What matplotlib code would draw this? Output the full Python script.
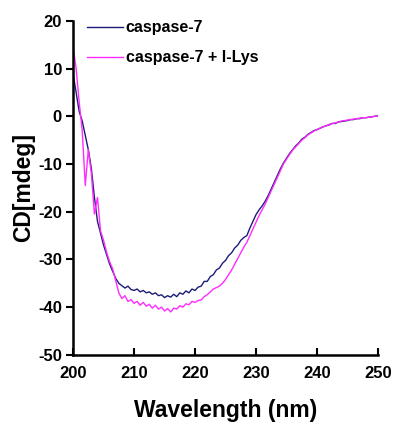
import numpy as np
import matplotlib.pyplot as plt

plt.rcParams['font.family'] = ['Liberation Sans', 'DejaVu Sans']
plt.rcParams['axes.unicode_minus'] = False

# wavelength grid (nm), 0.5 nm steps
wavelength = np.arange(200, 250.5, 0.5)

# CD signal [mdeg]
casp7 = [9, 5, 1, -1, -4, -7, -11, -17, -22, -24.5,
         -27, -29, -31, -32.5, -34, -35, -35.5, -36, -35.6, -36.3,
         -36.5, -36.2, -36.8, -36.5, -37, -36.8, -37.3, -37, -37.6, -37.4,
         -38, -37.6, -37.9, -37.3, -37.8, -37, -37.3, -36.6, -37, -36.2,
         -36.5, -35.8, -35.6, -34.6, -34.6, -33.6, -33.2, -32.2, -31.8, -30.8,
         -30.2, -29.2, -28.6, -27.6, -27, -26, -25.4, -25, -23.4, -22,
         -20.6, -19.6, -18.8, -17.8, -16.6, -15.2, -13.8, -12.4, -11, -9.8,
         -8.8, -7.8, -7, -6.2, -5.6, -4.8, -4.4, -3.8, -3.4, -3.0,
         -2.8, -2.5, -2.2, -2.0, -1.8, -1.5, -1.5, -1.2, -1.1, -1.0,
         -0.9, -0.7, -0.7, -0.5, -0.5, -0.3, -0.3, -0.2, -0.1, 0, 0.1]

casp7_lys = [14.5, 10, 3, -3, -14.5, -7, -12, -20.5, -17, -24,
             -26, -28.5, -30.5, -32, -34.5, -37, -38.2, -37.6, -38.8, -38.4,
             -39.2, -38.8, -39.6, -39, -39.8, -39.4, -40.2, -39.6, -40.4, -40,
             -40.8, -40.3, -41, -40.2, -40.4, -39.7, -40, -39.3, -39.5, -38.8,
             -39, -38.6, -38.5, -37.8, -37.4, -36.8, -36.2, -35.9, -35.6, -35,
             -34.2, -33.2, -32.2, -31, -29.8, -28.6, -27.4, -26.4, -25, -23.6,
             -22.2, -20.8, -19.6, -18.4, -17, -15.6, -14.2, -12.8, -11.4, -10.0,
             -9.0, -8.0, -7.1, -6.4, -5.7, -5.0, -4.5, -3.9, -3.5, -3.1,
             -2.8, -2.5, -2.2, -2.0, -1.7, -1.5, -1.4, -1.2, -1.0, -0.9,
             -0.8, -0.7, -0.6, -0.5, -0.4, -0.3, -0.3, -0.2, -0.1, 0, 0.1]

fig = plt.figure(figsize=(3.95, 4.25), dpi=100)
ax = fig.add_axes([0.185, 0.165, 0.772, 0.786])

ax.plot(wavelength, casp7, color='#1c1c78', lw=1.0, label='caspase-7')
ax.plot(wavelength, casp7_lys, color='#ff2bff', lw=1.0, label='caspase-7 + l-Lys')

ax.set_xlim(200, 250)
ax.set_ylim(-50, 20)
ax.set_xticks(np.arange(200, 251, 10))
ax.set_yticks(np.arange(-50, 21, 10))

for s in ['top', 'right']:
    ax.spines[s].set_visible(False)
for s in ['left', 'bottom']:
    ax.spines[s].set_linewidth(1.8)

ax.tick_params(axis='y', direction='out', length=5, width=1.5, labelsize=12, pad=3)
ax.tick_params(axis='x', direction='in', length=5, width=1.5, labelsize=12, pad=8)
for lab in ax.get_xticklabels() + ax.get_yticklabels():
    lab.set_fontweight('bold')

ax.set_xlabel('Wavelength (nm)', fontsize=16.5, fontweight='bold', labelpad=13)
ax.set_ylabel('CD[mdeg]', fontsize=16.5, fontweight='bold', labelpad=2)

leg = ax.legend(loc='upper left', bbox_to_anchor=(0.0, 1.045), frameon=False,
                prop={'weight': 'bold', 'size': 11.5}, handlelength=2.2,
                handletextpad=0.2, labelspacing=0.95)

fig.savefig('out.png', dpi=100)
